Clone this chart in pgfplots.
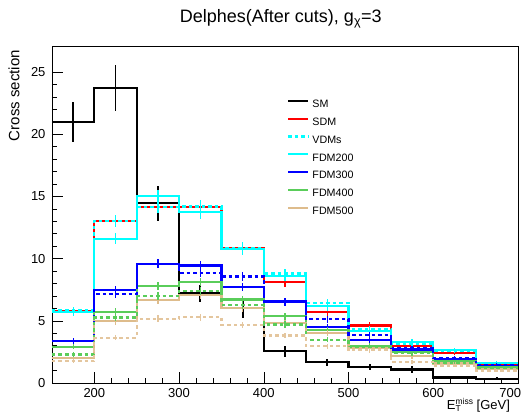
\documentclass[border=0pt]{standalone}
\usepackage{pgfplots}
\pgfplotsset{compat=1.18}
\usepackage{fontspec}
\setmainfont{Liberation Sans}
\definecolor{cyanR}{RGB}{0,255,255}
\definecolor{blueR}{RGB}{0,0,255}
\definecolor{greenR}{RGB}{90,205,90}
\definecolor{tanR}{RGB}{222,188,140}
\definecolor{tanL}{RGB}{228,198,158}
\pgfplotsset{
  histo/.style={const plot mark mid, mark=none, line width=2.2pt,
    error bars/y dir=both, error bars/y explicit, error bars/error mark=none,
    error bars/error bar style={line width=1.3pt, solid},
    legend image code/.code={\draw[##1, line width=2.2pt] (0pt,3.8pt) -- (20pt,3.8pt);}},
  dots/.style={dash pattern=on 3.5pt off 3pt},
}
\begin{document}
\begin{tikzpicture}
\begin{axis}[
  name=ax,
  scale only axis, width=466pt, height=337pt,
  xmin=150, xmax=700, ymin=0, ymax=27.1,
  xtick={200,300,...,700}, ytick={0,5,...,25},
  xticklabels={200,300,400,500,600,\makebox[0pt][r]{700\hspace{-3pt}}},
  minor x tick num=4, minor y tick num=4,
  tick pos=left, tick align=inside,
  major tick length=11pt, minor tick length=5.5pt,
  tick style={black, line width=0.6pt},
  axis line style={line width=0.8pt},
  ticklabel style={font=\fontsize{13}{13}\selectfont},
  xticklabel style={yshift=-2pt},
  yticklabel style={xshift=-3pt},
  /pgf/number format/assume math mode=true,
  title={Delphes(After cuts), g\textsubscript{χ}=3},
  title style={font=\fontsize{18}{18}\selectfont, at={(axis description cs:0.491,1)}, anchor=base, yshift=17pt, inner sep=0pt},
  ylabel={Cross section},
  ylabel style={font=\fontsize{15}{15}\selectfont, at={(axis description cs:-0.0815,0.988)}, anchor=east, inner sep=0pt},
  xlabel={E\rlap{\raisebox{-0.25ex}{\fontsize{8.5}{8.5}\selectfont T}}\raisebox{0.75ex}{\fontsize{8.5}{8.5}\selectfont miss} [GeV]},
  xlabel style={font=\fontsize{13}{13}\selectfont, at={(axis description cs:0.983,0)}, anchor=north east, yshift=-15pt, inner sep=0pt},
  legend style={at={(axis description cs:0.498,0.847)}, anchor=north west, draw=none, fill=none,
    font=\fontsize{10.7}{10.7}\selectfont, row sep=7.8pt,
    nodes={inner xsep=3pt, inner ysep=0pt, text height=8pt, text depth=2pt}},
  legend cell align=left,
]
% SM
\addplot[histo, black, error bars/error bar style={line width=1.8pt}] table[x=x,y=y,y error=e]{
x y e
150 21.0 0
175 21.0 1.6
225 23.7 1.85
275 14.45 1.4
325 7.2 0.7
375 6.0 0.75
425 2.55 0.45
475 1.67 0.28
525 1.3 0.22
575 1.08 0.3
625 0.45 0.12
675 0.35 0.1
700 0.35 0
};
\addlegendentry{SM}
% SDM
\addplot[histo, red] table[x=x,y=y,y error=e]{
x y e
150 5.8 0
175 5.8 0.3
225 13.05 0.5
275 14.15 0.5
325 14.15 0.5
375 10.86 0.45
425 8.1 0.4
475 5.72 0.33
525 4.62 0.3
575 3.0 0.25
625 2.42 0.2
675 1.5 0.17
700 1.5 0
};
\addlegendentry{SDM}
% VDMs
\addplot[histo, cyanR, dots] table[x=x,y=y,y error=e]{
x y e
150 5.85 0
175 5.85 0.3
225 13.05 0.5
275 14.15 0.5
325 14.2 0.5
375 10.86 0.45
425 8.8 0.4
475 6.44 0.35
525 4.3 0.3
575 3.17 0.25
625 2.6 0.2
675 1.6 0.17
700 1.6 0
};
\addlegendentry{VDMs}
% FDM200
\addplot[histo, cyanR] table[x=x,y=y,y error=e]{
x y e
150 5.7 0
175 5.7 0.3
225 11.6 0.45
275 15.05 0.5
325 13.72 0.5
375 10.78 0.45
425 8.63 0.4
475 6.17 0.35
525 4.2 0.3
575 3.28 0.25
625 2.64 0.2
675 1.62 0.17
700 1.62 0
};
\addlegendentry{FDM200}
% FDM300
\addplot[histo, blueR] table[x=x,y=y,y error=e]{
x y e
150 3.36 0
175 3.36 0.22
225 7.46 0.33
275 9.6 0.38
325 9.45 0.38
375 7.7 0.34
425 6.55 0.32
475 4.51 0.27
525 3.49 0.24
575 2.69 0.2
625 1.89 0.17
675 1.35 0.14
700 1.35 0
};
\addlegendentry{FDM300}
% FDM400
\addplot[histo, greenR] table[x=x,y=y,y error=e]{
x y e
150 2.9 0
175 2.9 0.2
225 5.74 0.3
275 7.78 0.34
325 8.12 0.35
375 6.71 0.32
425 5.37 0.29
475 4.24 0.25
525 3.0 0.21
575 2.48 0.2
625 1.73 0.16
675 1.27 0.14
700 1.27 0
};
\addlegendentry{FDM400}
% FDM500
\addplot[histo, tanR] table[x=x,y=y,y error=e]{
x y e
150 1.99 0
175 1.99 0.17
225 4.97 0.27
275 6.7 0.32
325 7.05 0.33
375 6.04 0.3
425 4.83 0.27
475 4.03 0.25
525 2.79 0.2
575 2.15 0.18
625 1.57 0.15
675 1.13 0.13
700 1.13 0
};
\addlegendentry{FDM500}
% unlabeled dotted series
\addplot[histo, blueR, dots, forget plot] table[x=x,y=y,y error=e]{
x y e
150 3.4 0
175 3.4 0.22
225 7.15 0.32
275 9.6 0.38
325 8.85 0.36
375 8.57 0.36
425 6.55 0.32
475 5.14 0.28
525 3.86 0.24
575 2.8 0.2
625 1.99 0.17
675 1.43 0.14
700 1.43 0
};
\addplot[histo, greenR, dots, forget plot] table[x=x,y=y,y error=e]{
x y e
150 2.29 0
175 2.29 0.18
225 5.26 0.28
275 6.99 0.32
325 7.4 0.33
375 6.28 0.31
425 4.7 0.27
475 3.49 0.23
525 2.9 0.21
575 2.4 0.19
625 1.65 0.16
675 1.22 0.13
700 1.22 0
};
\addplot[histo, tanL, dots, forget plot] table[x=x,y=y,y error=e]{
x y e
150 1.75 0
175 1.75 0.16
225 3.65 0.23
275 5.16 0.28
325 5.3 0.28
375 4.65 0.26
425 3.82 0.24
475 2.96 0.21
525 2.65 0.2
575 1.72 0.16
625 1.4 0.14
675 0.99 0.12
700 0.99 0
};
\end{axis}
\pgfresetboundingbox
\path[use as bounding box] ([xshift=-52pt,yshift=-30pt]ax.south west) rectangle ([xshift=8pt,yshift=46pt]ax.north east);
\end{tikzpicture}
\end{document}
